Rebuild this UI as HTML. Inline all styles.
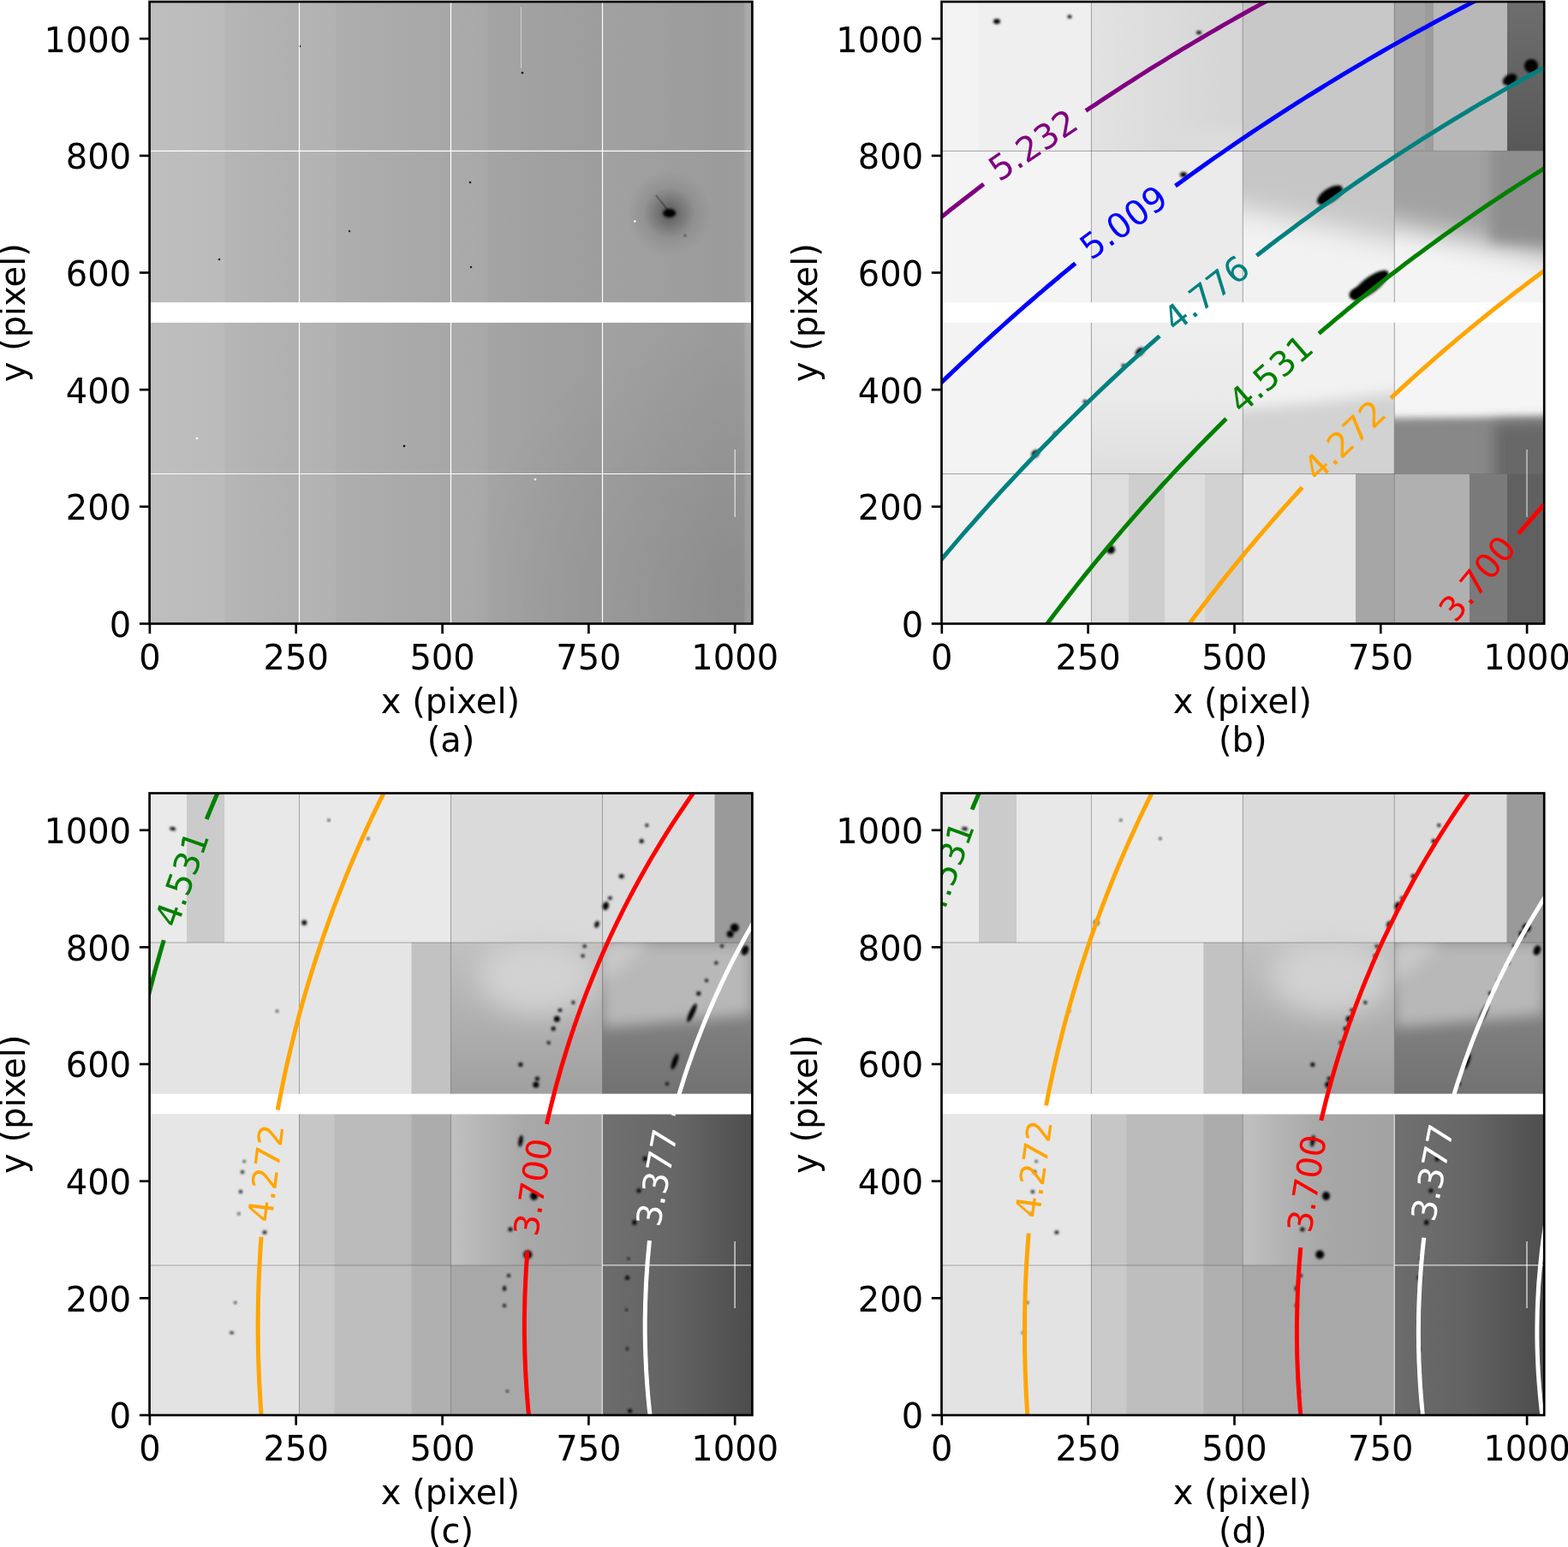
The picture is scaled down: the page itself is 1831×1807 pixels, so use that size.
<!DOCTYPE html>
<html><head><meta charset="utf-8"><title>Figure</title>
<style>html,body{margin:0;padding:0;background:#fff;}body{width:1831px;height:1807px;overflow:hidden;}svg{display:block;}</style>
</head><body>
<svg width="1831" height="1807" viewBox="0 0 1831 1807" font-family="DejaVu Sans, Liberation Sans, sans-serif">
<defs>
<clipPath id="clip0"><rect x="174.6" y="2" width="703.8" height="726.5"/></clipPath>
<clipPath id="clip1"><rect x="1099.5" y="2" width="703.7" height="726.5"/></clipPath>
<clipPath id="clip2"><rect x="174.6" y="926.5" width="703.8" height="726.5"/></clipPath>
<clipPath id="clip3"><rect x="1099.5" y="926.5" width="703.7" height="726.5"/></clipPath>
<clipPath id="cdseg4r2"><rect x="703.3" y="1101" width="175" height="176.5"/></clipPath>
<linearGradient id="ga" x1="0" y1="0" x2="1" y2="0"><stop offset="0" stop-color="#bebebe"/><stop offset="0.12" stop-color="#bbbbbb"/><stop offset="0.25" stop-color="#b4b4b4"/><stop offset="0.47" stop-color="#acacac"/><stop offset="0.69" stop-color="#a3a3a3"/><stop offset="0.8" stop-color="#a0a0a0"/><stop offset="0.95" stop-color="#9b9b9b"/><stop offset="0.985" stop-color="#9c9c9c"/><stop offset="0.99" stop-color="#aaaaaa"/><stop offset="1" stop-color="#aaaaaa"/></linearGradient>
<radialGradient id="alr" cx="0.5" cy="0.5" r="0.5"><stop offset="0" stop-color="#000" stop-opacity="0.10"/><stop offset="1" stop-color="#000" stop-opacity="0"/></radialGradient>
<radialGradient id="spot"><stop offset="0" stop-color="#000" stop-opacity="0.45"/><stop offset="0.3" stop-color="#000" stop-opacity="0.25"/><stop offset="0.6" stop-color="#000" stop-opacity="0.08"/><stop offset="1" stop-color="#000" stop-opacity="0"/></radialGradient>
<filter id="blur1" x="-50%" y="-50%" width="200%" height="200%"><feGaussianBlur stdDeviation="1.6"/></filter>
<filter id="soft8" x="-20%" y="-20%" width="140%" height="140%"><feGaussianBlur stdDeviation="8"/></filter>
<filter id="soft16" x="-30%" y="-30%" width="160%" height="160%"><feGaussianBlur stdDeviation="16"/></filter>
<filter id="soft4" x="-20%" y="-20%" width="140%" height="140%"><feGaussianBlur stdDeviation="4"/></filter>
<filter id="soft2" x="-50%" y="-50%" width="200%" height="200%"><feGaussianBlur stdDeviation="1.5"/></filter>
<clipPath id="bc00"><rect x="1099.5" y="2" width="174.9" height="174.4"/></clipPath>
<clipPath id="bc01"><rect x="1099.5" y="176.4" width="174.9" height="176.8"/></clipPath>
<clipPath id="bc02"><rect x="1099.5" y="376.9" width="174.9" height="176.6"/></clipPath>
<clipPath id="bc03"><rect x="1099.5" y="553.5" width="174.9" height="175"/></clipPath>
<clipPath id="bc10"><rect x="1274.4" y="2" width="176.9" height="174.4"/></clipPath>
<clipPath id="bc11"><rect x="1274.4" y="176.4" width="176.9" height="176.8"/></clipPath>
<clipPath id="bc12"><rect x="1274.4" y="376.9" width="176.9" height="176.6"/></clipPath>
<clipPath id="bc13"><rect x="1274.4" y="553.5" width="176.9" height="175"/></clipPath>
<clipPath id="bc20"><rect x="1451.3" y="2" width="177" height="174.4"/></clipPath>
<clipPath id="bc21"><rect x="1451.3" y="176.4" width="177" height="176.8"/></clipPath>
<clipPath id="bc22"><rect x="1451.3" y="376.9" width="177" height="176.6"/></clipPath>
<clipPath id="bc23"><rect x="1451.3" y="553.5" width="177" height="175"/></clipPath>
<clipPath id="bc30"><rect x="1628.3" y="2" width="175" height="174.4"/></clipPath>
<clipPath id="bc31"><rect x="1628.3" y="176.4" width="175" height="176.8"/></clipPath>
<clipPath id="bc32"><rect x="1628.3" y="376.9" width="175" height="176.6"/></clipPath>
<clipPath id="bc33"><rect x="1628.3" y="553.5" width="175" height="175"/></clipPath>
<linearGradient id="bgb1" x1="0" y1="0" x2="1" y2="0"><stop offset="0" stop-color="#e2e2e2"/><stop offset="1" stop-color="#d4d4d4"/></linearGradient>
<linearGradient id="bgb2" x1="0" y1="0" x2="0" y2="1"><stop offset="0" stop-color="#6e6e6e"/><stop offset="1" stop-color="#585858"/></linearGradient>
<linearGradient id="bgb3" x1="0" y1="0" x2="0" y2="1"><stop offset="0" stop-color="#eeeeee"/><stop offset="0.5" stop-color="#eaeaea"/><stop offset="1" stop-color="#dedede"/></linearGradient>
<linearGradient id="bg4" x1="0" y1="0" x2="0" y2="1"><stop offset="0.0" stop-color="#c0c0c0"/><stop offset="0.5" stop-color="#b0b0b0"/><stop offset="1.0" stop-color="#a0a0a0"/></linearGradient>
<linearGradient id="bg5" x1="0" y1="0" x2="0" y2="1"><stop offset="0.0" stop-color="#8a8a8a"/><stop offset="0.5" stop-color="#808080"/><stop offset="1.0" stop-color="#727272"/></linearGradient>
<linearGradient id="bg6" x1="0" y1="0" x2="1" y2="0"><stop offset="0.0" stop-color="#c0c0c0"/><stop offset="0.5" stop-color="#a8a8a8"/><stop offset="1.0" stop-color="#a2a2a2"/></linearGradient>
<linearGradient id="bg7" x1="0" y1="0" x2="1" y2="0"><stop offset="0.0" stop-color="#707070"/><stop offset="0.5" stop-color="#666666"/><stop offset="1.0" stop-color="#4e4e4e"/></linearGradient>
<linearGradient id="bg8" x1="0" y1="0" x2="1" y2="0"><stop offset="0.0" stop-color="#6c6c6c"/><stop offset="0.5" stop-color="#626262"/><stop offset="1.0" stop-color="#4c4c4c"/></linearGradient>
<linearGradient id="bg9" x1="0" y1="0" x2="0" y2="1"><stop offset="0.0" stop-color="#c0c0c0"/><stop offset="0.5" stop-color="#b0b0b0"/><stop offset="1.0" stop-color="#a0a0a0"/></linearGradient>
<linearGradient id="bg10" x1="0" y1="0" x2="0" y2="1"><stop offset="0.0" stop-color="#8a8a8a"/><stop offset="0.5" stop-color="#808080"/><stop offset="1.0" stop-color="#727272"/></linearGradient>
<linearGradient id="bg11" x1="0" y1="0" x2="1" y2="0"><stop offset="0.0" stop-color="#c0c0c0"/><stop offset="0.5" stop-color="#a8a8a8"/><stop offset="1.0" stop-color="#a2a2a2"/></linearGradient>
<linearGradient id="bg12" x1="0" y1="0" x2="1" y2="0"><stop offset="0.0" stop-color="#707070"/><stop offset="0.5" stop-color="#666666"/><stop offset="1.0" stop-color="#4e4e4e"/></linearGradient>
<linearGradient id="bg13" x1="0" y1="0" x2="1" y2="0"><stop offset="0.0" stop-color="#6c6c6c"/><stop offset="0.5" stop-color="#626262"/><stop offset="1.0" stop-color="#4c4c4c"/></linearGradient>
</defs>
<rect x="174.6" y="2" width="703.8" height="726.5" fill="url(#ga)"/>
<rect x="262.1" y="2" width="87.4" height="726.5" fill="#000" opacity="0.025"/>
<rect x="392.6" y="2" width="133.9" height="726.5" fill="#000" opacity="0.02"/>
<rect x="569.6" y="2" width="133.9" height="726.5" fill="#000" opacity="0.02"/>
<g clip-path="url(#clip0)"><ellipse cx="870" cy="700" rx="330" ry="330" fill="url(#alr)"/></g>
<circle cx="781.5" cy="249" r="50" fill="url(#spot)"/>
<path d="M766,228 L781,247" stroke="#000" stroke-opacity="0.25" stroke-width="2.5"/>
<ellipse cx="781.6" cy="249" rx="7.5" ry="5" fill="#000" filter="url(#blur1)"/>
<circle cx="800" cy="275.2" r="2" fill="#555" opacity="0.6"/>
<circle cx="741.3" cy="258.5" r="1.3" fill="#fff"/>
<circle cx="350" cy="54" r="1.3" fill="#000"/>
<circle cx="610" cy="85" r="1.3" fill="#000"/>
<circle cx="408" cy="270" r="1.3" fill="#333"/>
<circle cx="549" cy="213" r="1.3" fill="#222"/>
<circle cx="472" cy="521" r="1.3" fill="#000"/>
<circle cx="256" cy="303" r="1.3" fill="#222"/>
<circle cx="550" cy="312" r="1.3" fill="#222"/>
<circle cx="625" cy="560" r="1.3" fill="#fff"/>
<circle cx="230" cy="512" r="1.3" fill="#fff"/>
<line x1="858.2" y1="525" x2="858.2" y2="604" stroke="#fff" stroke-width="1" opacity="0.9"/>
<line x1="608.5" y1="8" x2="608.5" y2="80" stroke="#fff" stroke-width="1" opacity="0.5"/>
<line x1="349.5" y1="2" x2="349.5" y2="728.5" stroke="#fff" stroke-width="1.2" opacity="1.0"/>
<line x1="526.5" y1="2" x2="526.5" y2="728.5" stroke="#fff" stroke-width="1.2" opacity="1.0"/>
<line x1="703.5" y1="2" x2="703.5" y2="728.5" stroke="#fff" stroke-width="1.2" opacity="1.0"/>
<line x1="174.6" y1="176.4" x2="878.4" y2="176.4" stroke="#fff" stroke-width="1.2" opacity="1.0"/>
<line x1="174.6" y1="553.5" x2="878.4" y2="553.5" stroke="#fff" stroke-width="1.2" opacity="1.0"/>
<rect x="174.6" y="353.2" width="703.8" height="23.7" fill="#fff"/>
<rect x="1099.5" y="2" width="703.8" height="726.5" fill="#eeeeee"/>
<rect x="1099.5" y="2" width="43.5" height="174.4" fill="#f3f3f3"/>
<rect x="1143" y="2" width="131.4" height="174.4" fill="#efefef"/>
<rect x="1274.4" y="2" width="176.9" height="174.4" fill="url(#bgb1)"/>
<rect x="1451.3" y="2" width="177" height="174.4" fill="#c8c8c8"/>
<rect x="1628.3" y="2" width="131.7" height="174.4" fill="#b8b8b8"/>
<rect x="1628.3" y="2" width="35.7" height="174.4" fill="#a4a4a4"/>
<rect x="1664" y="2" width="10" height="174.4" fill="#9c9c9c"/>
<rect x="1760" y="2" width="43.3" height="174.4" fill="url(#bgb2)"/>
<rect x="1099.5" y="176.4" width="174.9" height="176.8" fill="#f4f4f4"/>
<rect x="1274.4" y="176.4" width="176.9" height="176.8" fill="#ebebeb"/>
<g clip-path="url(#bc10)"><path d="M1340,150 L1500,150 L1500,250 Z" fill="#dcdcdc" filter="url(#soft8)"/></g>
<rect x="1451.3" y="176.4" width="177" height="176.8" fill="#f2f2f2"/>
<g clip-path="url(#bc21)"><path d="M1400,100 L1700,100 L1700,297 L1400,232 Z" fill="#c6c6c6" filter="url(#soft16)"/></g>
<rect x="1628.3" y="176.4" width="175" height="176.8" fill="#f4f4f4"/>
<g clip-path="url(#bc31)"><path d="M1570,100 L1870,100 L1870,311 L1570,251 Z" fill="#a2a2a2" filter="url(#soft16)"/><path d="M1740,100 L1870,100 L1870,290 L1740,282 Z" fill="#8e8e8e" filter="url(#soft8)"/></g>
<rect x="1099.5" y="376.9" width="174.9" height="176.6" fill="#f3f3f3"/>
<rect x="1274.4" y="376.9" width="176.9" height="176.6" fill="url(#bgb3)"/>
<rect x="1451.3" y="376.9" width="177" height="176.6" fill="#f2f2f2"/>
<g clip-path="url(#bc22)"><path d="M1400,600 L1400,482 L1540,470 L1680,452 L1680,600 Z" fill="#d2d2d2" filter="url(#soft8)"/></g>
<rect x="1628.3" y="376.9" width="175" height="176.6" fill="#f5f5f5"/>
<g clip-path="url(#bc32)"><path d="M1580,489 L1860,486 L1860,600 L1580,600 Z" fill="#888888" filter="url(#soft4)"/><path d="M1745,494 L1860,492 L1860,600 L1745,600 Z" fill="#686868" filter="url(#soft8)"/></g>
<rect x="1099.5" y="553.5" width="174.9" height="175" fill="#f2f2f2"/>
<rect x="1274.4" y="553.5" width="176.9" height="175" fill="#dedede"/>
<rect x="1318" y="553.5" width="42" height="175" fill="#cecece"/>
<rect x="1407" y="553.5" width="44.3" height="175" fill="#d2d2d2"/>
<rect x="1451.3" y="553.5" width="131.7" height="175" fill="#e6e6e6"/>
<rect x="1583" y="553.5" width="45.3" height="175" fill="#a6a6a6"/>
<rect x="1628.3" y="553.5" width="87.7" height="175" fill="#b0b0b0"/>
<rect x="1716" y="553.5" width="44" height="175" fill="#7a7a7a"/>
<rect x="1760" y="553.5" width="43.3" height="175" fill="#606060"/>
<g clip-path="url(#clip1)" fill="#000">
<ellipse cx="1553" cy="228" rx="17" ry="8" transform="rotate(-33 1553 228)" filter="url(#soft2)"/>
<ellipse cx="1600" cy="333" rx="26" ry="9" transform="rotate(-37 1600 333)" filter="url(#soft2)"/>
<ellipse cx="1583" cy="343" rx="8" ry="6" transform="rotate(-30 1583 343)" filter="url(#soft2)"/>
<ellipse cx="1763" cy="93" rx="9" ry="6" transform="rotate(-30 1763 93)" filter="url(#soft2)"/>
<ellipse cx="1788" cy="77" rx="8" ry="8" transform="rotate(0 1788 77)" filter="url(#soft2)"/>
<ellipse cx="1297" cy="642" rx="5" ry="5" transform="rotate(0 1297 642)" filter="url(#soft2)"/>
<ellipse cx="1209" cy="530" rx="5" ry="4" transform="rotate(-45 1209 530)" filter="url(#soft2)"/>
<ellipse cx="1164" cy="25" rx="4" ry="3" transform="rotate(0 1164 25)" filter="url(#soft2)"/>
<ellipse cx="1382" cy="204" rx="4" ry="3" transform="rotate(0 1382 204)" filter="url(#soft2)"/>
<ellipse cx="1331" cy="411" rx="6" ry="4" transform="rotate(-45 1331 411)" filter="url(#soft2)"/>
<ellipse cx="1312" cy="427" rx="2.5" ry="2" transform="rotate(0 1312 427)" filter="url(#soft2)"/>
<ellipse cx="1267" cy="469" rx="2.5" ry="2" transform="rotate(0 1267 469)" filter="url(#soft2)"/>
<ellipse cx="1232" cy="506" rx="2" ry="2" transform="rotate(0 1232 506)" filter="url(#soft2)"/>
<ellipse cx="1400" cy="38" rx="3" ry="2" transform="rotate(0 1400 38)" filter="url(#soft2)"/>
<ellipse cx="1249" cy="19.5" rx="2.5" ry="2" transform="rotate(0 1249 19.5)" filter="url(#soft2)"/>
</g>
<line x1="1274.4" y1="2" x2="1274.4" y2="728.5" stroke="#555" stroke-width="1.0" opacity="0.5"/>
<line x1="1451.3" y1="2" x2="1451.3" y2="728.5" stroke="#555" stroke-width="1.0" opacity="0.5"/>
<line x1="1628.3" y1="2" x2="1628.3" y2="728.5" stroke="#555" stroke-width="1.0" opacity="0.5"/>
<line x1="1099.5" y1="176.4" x2="1803.2" y2="176.4" stroke="#555" stroke-width="1.0" opacity="0.5"/>
<line x1="1099.5" y1="553.5" x2="1803.2" y2="553.5" stroke="#555" stroke-width="1.0" opacity="0.5"/>
<line x1="1783" y1="525" x2="1783" y2="604" stroke="#fff" stroke-width="1" opacity="0.9"/>
<rect x="1099.5" y="353.2" width="703.7" height="23.7" fill="#fff"/>
<g clip-path="url(#clip2)"><g transform="translate(0 0)">
<rect x="174.6" y="926.5" width="703.8" height="726.5" fill="#d0d0d0"/>
<rect x="174.6" y="926.5" width="43.5" height="174.4" fill="#eaeaea"/>
<rect x="218.1" y="926.5" width="44" height="174.4" fill="#cbcbcb"/>
<rect x="262.1" y="926.5" width="87.4" height="174.4" fill="#e8e8e8"/>
<rect x="349.5" y="926.5" width="177" height="174.4" fill="#e9e9e9"/>
<rect x="526.5" y="926.5" width="177" height="174.4" fill="#dadada"/>
<rect x="703.5" y="926.5" width="131.1" height="174.4" fill="#dcdcdc"/>
<rect x="834.6" y="926.5" width="43.8" height="174.4" fill="#9a9a9a"/>
<rect x="174.6" y="1101" width="174.9" height="176.8" fill="#e4e4e4"/>
<rect x="349.5" y="1101" width="131.1" height="176.8" fill="#e5e5e5"/>
<rect x="480.6" y="1101" width="45.9" height="176.8" fill="#c2c2c2"/>
<rect x="526.5" y="1101" width="177" height="176.8" fill="url(#bg4)"/>
<rect x="703.5" y="1101" width="174.9" height="176.8" fill="url(#bg5)"/>
<rect x="174.6" y="1301.4" width="174.9" height="176.6" fill="#e6e6e6"/>
<rect x="349.5" y="1301.4" width="177" height="176.6" fill="#bababa"/>
<rect x="349.5" y="1301.4" width="41.1" height="176.6" fill="#c6c6c6"/>
<rect x="480.6" y="1301.4" width="45.9" height="176.6" fill="#acacac"/>
<rect x="526.5" y="1301.4" width="177" height="176.6" fill="url(#bg6)"/>
<rect x="703.5" y="1301.4" width="174.9" height="176.6" fill="url(#bg7)"/>
<rect x="174.6" y="1478" width="174.9" height="175" fill="#e3e3e3"/>
<rect x="349.5" y="1478" width="177" height="175" fill="#bebebe"/>
<rect x="349.5" y="1478" width="41.1" height="175" fill="#cacaca"/>
<rect x="480.6" y="1478" width="45.9" height="175" fill="#b0b0b0"/>
<rect x="526.5" y="1478" width="177" height="175" fill="#a8a8a8"/>
<rect x="703.5" y="1478" width="174.9" height="175" fill="url(#bg8)"/>
<ellipse cx="628" cy="1140" rx="70" ry="45" fill="#d2d2d2" filter="url(#soft16)"/>
<path d="M703.2,1101 L878.4,1101 L878.4,1185 L703.2,1200 Z" fill="#b8b8b8" filter="url(#soft8)" clip-path="url(#cdseg4r2)"/>
<path d="M703.2,1101 L760,1101 L703.2,1150 Z" fill="#c8c8c8" filter="url(#soft8)" clip-path="url(#cdseg4r2)"/>
<g fill="#000">
<ellipse cx="749.2" cy="982.5" rx="2.5" ry="2.5" transform="rotate(0 749.2 982.5)" filter="url(#soft2)"/>
<ellipse cx="725.7" cy="1023.4" rx="3" ry="2.5" transform="rotate(0 725.7 1023.4)" filter="url(#soft2)"/>
<ellipse cx="712.4" cy="1049" rx="2.5" ry="2" transform="rotate(0 712.4 1049)" filter="url(#soft2)"/>
<ellipse cx="707.3" cy="1058.2" rx="3.5" ry="5" transform="rotate(15 707.3 1058.2)" filter="url(#soft2)"/>
<ellipse cx="697" cy="1079.7" rx="2.5" ry="4" transform="rotate(20 697 1079.7)" filter="url(#soft2)"/>
<ellipse cx="682.7" cy="1105.3" rx="2" ry="2" transform="rotate(0 682.7 1105.3)" filter="url(#soft2)"/>
<ellipse cx="680.6" cy="1116.6" rx="2" ry="2" transform="rotate(0 680.6 1116.6)" filter="url(#soft2)"/>
<ellipse cx="669.4" cy="1170.9" rx="2" ry="2" transform="rotate(0 669.4 1170.9)" filter="url(#soft2)"/>
<ellipse cx="654" cy="1180" rx="2.5" ry="2" transform="rotate(0 654 1180)" filter="url(#soft2)"/>
<ellipse cx="650.3" cy="1190.3" rx="3.5" ry="3.5" transform="rotate(0 650.3 1190.3)" filter="url(#soft2)"/>
<ellipse cx="646.2" cy="1201.6" rx="2.5" ry="2.5" transform="rotate(0 646.2 1201.6)" filter="url(#soft2)"/>
<ellipse cx="640.7" cy="1218" rx="2" ry="2" transform="rotate(0 640.7 1218)" filter="url(#soft2)"/>
<ellipse cx="607.9" cy="1243.6" rx="2.5" ry="2.5" transform="rotate(0 607.9 1243.6)" filter="url(#soft2)"/>
<ellipse cx="627.4" cy="1260" rx="2.5" ry="2.5" transform="rotate(0 627.4 1260)" filter="url(#soft2)"/>
<ellipse cx="625.8" cy="1267" rx="3.5" ry="3.5" transform="rotate(0 625.8 1267)" filter="url(#soft2)"/>
<ellipse cx="755.4" cy="964" rx="2" ry="2" transform="rotate(0 755.4 964)" filter="url(#soft2)"/>
<ellipse cx="857.8" cy="1083.8" rx="5" ry="5" transform="rotate(0 857.8 1083.8)" filter="url(#soft2)"/>
<ellipse cx="852.7" cy="1091" rx="4" ry="4" transform="rotate(0 852.7 1091)" filter="url(#soft2)"/>
<ellipse cx="843" cy="1105" rx="2" ry="2" transform="rotate(0 843 1105)" filter="url(#soft2)"/>
<ellipse cx="836.3" cy="1124.8" rx="2" ry="2" transform="rotate(0 836.3 1124.8)" filter="url(#soft2)"/>
<ellipse cx="825" cy="1145.3" rx="2" ry="2" transform="rotate(0 825 1145.3)" filter="url(#soft2)"/>
<ellipse cx="815.8" cy="1160.6" rx="2.5" ry="2.5" transform="rotate(0 815.8 1160.6)" filter="url(#soft2)"/>
<ellipse cx="808" cy="1183" rx="3" ry="12" transform="rotate(25 808 1183)" filter="url(#soft2)"/>
<ellipse cx="788" cy="1240" rx="3" ry="10" transform="rotate(20 788 1240)" filter="url(#soft2)"/>
<ellipse cx="779" cy="1266" rx="2" ry="2" transform="rotate(0 779 1266)" filter="url(#soft2)"/>
<ellipse cx="870" cy="1110" rx="4" ry="6" transform="rotate(20 870 1110)" filter="url(#soft2)"/>
<ellipse cx="608" cy="1332.7" rx="2.5" ry="7" transform="rotate(10 608 1332.7)" filter="url(#soft2)"/>
<ellipse cx="623.6" cy="1397" rx="4.5" ry="5" transform="rotate(0 623.6 1397)" filter="url(#soft2)"/>
<ellipse cx="616.3" cy="1465.5" rx="5" ry="5" transform="rotate(0 616.3 1465.5)" filter="url(#soft2)"/>
<ellipse cx="594" cy="1490" rx="2" ry="2" transform="rotate(0 594 1490)" filter="url(#soft2)"/>
<ellipse cx="589" cy="1505" rx="2" ry="3" transform="rotate(0 589 1505)" filter="url(#soft2)"/>
<ellipse cx="589" cy="1525" rx="2" ry="2" transform="rotate(0 589 1525)" filter="url(#soft2)"/>
<ellipse cx="592.4" cy="1625" rx="1.5" ry="1.5" transform="rotate(0 592.4 1625)" filter="url(#soft2)"/>
<ellipse cx="596" cy="1436" rx="2.5" ry="2.5" transform="rotate(0 596 1436)" filter="url(#soft2)"/>
<ellipse cx="753.3" cy="1353.5" rx="2.5" ry="3" transform="rotate(0 753.3 1353.5)" filter="url(#soft2)"/>
<ellipse cx="746" cy="1390.8" rx="2.5" ry="2.5" transform="rotate(0 746 1390.8)" filter="url(#soft2)"/>
<ellipse cx="740.8" cy="1428" rx="2.5" ry="3" transform="rotate(0 740.8 1428)" filter="url(#soft2)"/>
<ellipse cx="734" cy="1470" rx="1.5" ry="1.5" transform="rotate(0 734 1470)" filter="url(#soft2)"/>
<ellipse cx="732.5" cy="1492.5" rx="2.5" ry="2.5" transform="rotate(0 732.5 1492.5)" filter="url(#soft2)"/>
<ellipse cx="731.5" cy="1529.9" rx="1.5" ry="1.5" transform="rotate(0 731.5 1529.9)" filter="url(#soft2)"/>
<ellipse cx="732.5" cy="1575.5" rx="1.5" ry="2" transform="rotate(0 732.5 1575.5)" filter="url(#soft2)"/>
<ellipse cx="735.6" cy="1648" rx="2.5" ry="2.5" transform="rotate(0 735.6 1648)" filter="url(#soft2)"/>
<ellipse cx="201.7" cy="968.1" rx="3.5" ry="2" transform="rotate(10 201.7 968.1)" filter="url(#soft2)"/>
<ellipse cx="355.3" cy="1077.7" rx="3" ry="3" transform="rotate(0 355.3 1077.7)" filter="url(#soft2)"/>
<ellipse cx="323.6" cy="1181.1" rx="1.5" ry="1.5" transform="rotate(0 323.6 1181.1)" filter="url(#soft2)"/>
<ellipse cx="384" cy="957.9" rx="1.5" ry="1.5" transform="rotate(0 384 957.9)" filter="url(#soft2)"/>
<ellipse cx="430" cy="979.4" rx="1.5" ry="1.5" transform="rotate(0 430 979.4)" filter="url(#soft2)"/>
<ellipse cx="285.2" cy="1356.6" rx="1.5" ry="1.5" transform="rotate(0 285.2 1356.6)" filter="url(#soft2)"/>
<ellipse cx="283.1" cy="1369" rx="2" ry="2" transform="rotate(0 283.1 1369)" filter="url(#soft2)"/>
<ellipse cx="281" cy="1391.9" rx="2" ry="2" transform="rotate(0 281 1391.9)" filter="url(#soft2)"/>
<ellipse cx="278.9" cy="1417.8" rx="1.5" ry="1.5" transform="rotate(0 278.9 1417.8)" filter="url(#soft2)"/>
<ellipse cx="309" cy="1439.6" rx="2.5" ry="2" transform="rotate(0 309 1439.6)" filter="url(#soft2)"/>
<ellipse cx="270.6" cy="1556.8" rx="2.5" ry="1.5" transform="rotate(0 270.6 1556.8)" filter="url(#soft2)"/>
<ellipse cx="274.8" cy="1521.6" rx="1.5" ry="1.5" transform="rotate(0 274.8 1521.6)" filter="url(#soft2)"/>
</g>
</g></g>
<line x1="349.5" y1="926.5" x2="349.5" y2="1653" stroke="#555" stroke-width="1.0" opacity="0.45"/>
<line x1="526.5" y1="926.5" x2="526.5" y2="1653" stroke="#555" stroke-width="1.0" opacity="0.45"/>
<line x1="703.5" y1="926.5" x2="703.5" y2="1653" stroke="#555" stroke-width="1.0" opacity="0.45"/>
<line x1="174.6" y1="1101" x2="878.4" y2="1101" stroke="#555" stroke-width="1.0" opacity="0.45"/>
<line x1="174.6" y1="1478" x2="878.4" y2="1478" stroke="#555" stroke-width="1.0" opacity="0.45"/>
<line x1="703.3" y1="1301.4" x2="703.3" y2="1653" stroke="#fff" stroke-width="1.2" opacity="0.8"/>
<line x1="703.3" y1="1477.95" x2="878.4" y2="1477.95" stroke="#fff" stroke-width="1.2" opacity="0.8"/>
<line x1="858.1" y1="1450" x2="858.1" y2="1528" stroke="#fff" stroke-width="1.2" opacity="0.9"/>
<rect x="174.6" y="1277.7" width="703.8" height="23.7" fill="#fff"/>
<g clip-path="url(#clip3)"><g transform="translate(924.9 0)">
<rect x="174.6" y="926.5" width="703.8" height="726.5" fill="#d0d0d0"/>
<rect x="174.6" y="926.5" width="43.5" height="174.4" fill="#eaeaea"/>
<rect x="218.1" y="926.5" width="44" height="174.4" fill="#cbcbcb"/>
<rect x="262.1" y="926.5" width="87.4" height="174.4" fill="#e8e8e8"/>
<rect x="349.5" y="926.5" width="177" height="174.4" fill="#e9e9e9"/>
<rect x="526.5" y="926.5" width="177" height="174.4" fill="#dadada"/>
<rect x="703.5" y="926.5" width="131.1" height="174.4" fill="#dcdcdc"/>
<rect x="834.6" y="926.5" width="43.8" height="174.4" fill="#9a9a9a"/>
<rect x="174.6" y="1101" width="174.9" height="176.8" fill="#e4e4e4"/>
<rect x="349.5" y="1101" width="131.1" height="176.8" fill="#e5e5e5"/>
<rect x="480.6" y="1101" width="45.9" height="176.8" fill="#c2c2c2"/>
<rect x="526.5" y="1101" width="177" height="176.8" fill="url(#bg9)"/>
<rect x="703.5" y="1101" width="174.9" height="176.8" fill="url(#bg10)"/>
<rect x="174.6" y="1301.4" width="174.9" height="176.6" fill="#e6e6e6"/>
<rect x="349.5" y="1301.4" width="177" height="176.6" fill="#bababa"/>
<rect x="349.5" y="1301.4" width="41.1" height="176.6" fill="#c6c6c6"/>
<rect x="480.6" y="1301.4" width="45.9" height="176.6" fill="#acacac"/>
<rect x="526.5" y="1301.4" width="177" height="176.6" fill="url(#bg11)"/>
<rect x="703.5" y="1301.4" width="174.9" height="176.6" fill="url(#bg12)"/>
<rect x="174.6" y="1478" width="174.9" height="175" fill="#e3e3e3"/>
<rect x="349.5" y="1478" width="177" height="175" fill="#bebebe"/>
<rect x="349.5" y="1478" width="41.1" height="175" fill="#cacaca"/>
<rect x="480.6" y="1478" width="45.9" height="175" fill="#b0b0b0"/>
<rect x="526.5" y="1478" width="177" height="175" fill="#a8a8a8"/>
<rect x="703.5" y="1478" width="174.9" height="175" fill="url(#bg13)"/>
<ellipse cx="628" cy="1140" rx="70" ry="45" fill="#d2d2d2" filter="url(#soft16)"/>
<path d="M703.2,1101 L878.4,1101 L878.4,1185 L703.2,1200 Z" fill="#b8b8b8" filter="url(#soft8)" clip-path="url(#cdseg4r2)"/>
<path d="M703.2,1101 L760,1101 L703.2,1150 Z" fill="#c8c8c8" filter="url(#soft8)" clip-path="url(#cdseg4r2)"/>
<g fill="#000">
<ellipse cx="749.2" cy="982.5" rx="2.5" ry="2.5" transform="rotate(0 749.2 982.5)" filter="url(#soft2)"/>
<ellipse cx="725.7" cy="1023.4" rx="3" ry="2.5" transform="rotate(0 725.7 1023.4)" filter="url(#soft2)"/>
<ellipse cx="712.4" cy="1049" rx="2.5" ry="2" transform="rotate(0 712.4 1049)" filter="url(#soft2)"/>
<ellipse cx="707.3" cy="1058.2" rx="3.5" ry="5" transform="rotate(15 707.3 1058.2)" filter="url(#soft2)"/>
<ellipse cx="697" cy="1079.7" rx="2.5" ry="4" transform="rotate(20 697 1079.7)" filter="url(#soft2)"/>
<ellipse cx="682.7" cy="1105.3" rx="2" ry="2" transform="rotate(0 682.7 1105.3)" filter="url(#soft2)"/>
<ellipse cx="680.6" cy="1116.6" rx="2" ry="2" transform="rotate(0 680.6 1116.6)" filter="url(#soft2)"/>
<ellipse cx="669.4" cy="1170.9" rx="2" ry="2" transform="rotate(0 669.4 1170.9)" filter="url(#soft2)"/>
<ellipse cx="654" cy="1180" rx="2.5" ry="2" transform="rotate(0 654 1180)" filter="url(#soft2)"/>
<ellipse cx="650.3" cy="1190.3" rx="3.5" ry="3.5" transform="rotate(0 650.3 1190.3)" filter="url(#soft2)"/>
<ellipse cx="646.2" cy="1201.6" rx="2.5" ry="2.5" transform="rotate(0 646.2 1201.6)" filter="url(#soft2)"/>
<ellipse cx="640.7" cy="1218" rx="2" ry="2" transform="rotate(0 640.7 1218)" filter="url(#soft2)"/>
<ellipse cx="607.9" cy="1243.6" rx="2.5" ry="2.5" transform="rotate(0 607.9 1243.6)" filter="url(#soft2)"/>
<ellipse cx="627.4" cy="1260" rx="2.5" ry="2.5" transform="rotate(0 627.4 1260)" filter="url(#soft2)"/>
<ellipse cx="625.8" cy="1267" rx="3.5" ry="3.5" transform="rotate(0 625.8 1267)" filter="url(#soft2)"/>
<ellipse cx="755.4" cy="964" rx="2" ry="2" transform="rotate(0 755.4 964)" filter="url(#soft2)"/>
<ellipse cx="857.8" cy="1083.8" rx="5" ry="5" transform="rotate(0 857.8 1083.8)" filter="url(#soft2)"/>
<ellipse cx="852.7" cy="1091" rx="4" ry="4" transform="rotate(0 852.7 1091)" filter="url(#soft2)"/>
<ellipse cx="843" cy="1105" rx="2" ry="2" transform="rotate(0 843 1105)" filter="url(#soft2)"/>
<ellipse cx="836.3" cy="1124.8" rx="2" ry="2" transform="rotate(0 836.3 1124.8)" filter="url(#soft2)"/>
<ellipse cx="825" cy="1145.3" rx="2" ry="2" transform="rotate(0 825 1145.3)" filter="url(#soft2)"/>
<ellipse cx="815.8" cy="1160.6" rx="2.5" ry="2.5" transform="rotate(0 815.8 1160.6)" filter="url(#soft2)"/>
<ellipse cx="808" cy="1183" rx="3" ry="12" transform="rotate(25 808 1183)" filter="url(#soft2)"/>
<ellipse cx="788" cy="1240" rx="3" ry="10" transform="rotate(20 788 1240)" filter="url(#soft2)"/>
<ellipse cx="779" cy="1266" rx="2" ry="2" transform="rotate(0 779 1266)" filter="url(#soft2)"/>
<ellipse cx="870" cy="1110" rx="4" ry="6" transform="rotate(20 870 1110)" filter="url(#soft2)"/>
<ellipse cx="608" cy="1332.7" rx="2.5" ry="7" transform="rotate(10 608 1332.7)" filter="url(#soft2)"/>
<ellipse cx="623.6" cy="1397" rx="4.5" ry="5" transform="rotate(0 623.6 1397)" filter="url(#soft2)"/>
<ellipse cx="616.3" cy="1465.5" rx="5" ry="5" transform="rotate(0 616.3 1465.5)" filter="url(#soft2)"/>
<ellipse cx="594" cy="1490" rx="2" ry="2" transform="rotate(0 594 1490)" filter="url(#soft2)"/>
<ellipse cx="589" cy="1505" rx="2" ry="3" transform="rotate(0 589 1505)" filter="url(#soft2)"/>
<ellipse cx="589" cy="1525" rx="2" ry="2" transform="rotate(0 589 1525)" filter="url(#soft2)"/>
<ellipse cx="592.4" cy="1625" rx="1.5" ry="1.5" transform="rotate(0 592.4 1625)" filter="url(#soft2)"/>
<ellipse cx="596" cy="1436" rx="2.5" ry="2.5" transform="rotate(0 596 1436)" filter="url(#soft2)"/>
<ellipse cx="753.3" cy="1353.5" rx="2.5" ry="3" transform="rotate(0 753.3 1353.5)" filter="url(#soft2)"/>
<ellipse cx="746" cy="1390.8" rx="2.5" ry="2.5" transform="rotate(0 746 1390.8)" filter="url(#soft2)"/>
<ellipse cx="740.8" cy="1428" rx="2.5" ry="3" transform="rotate(0 740.8 1428)" filter="url(#soft2)"/>
<ellipse cx="734" cy="1470" rx="1.5" ry="1.5" transform="rotate(0 734 1470)" filter="url(#soft2)"/>
<ellipse cx="732.5" cy="1492.5" rx="2.5" ry="2.5" transform="rotate(0 732.5 1492.5)" filter="url(#soft2)"/>
<ellipse cx="731.5" cy="1529.9" rx="1.5" ry="1.5" transform="rotate(0 731.5 1529.9)" filter="url(#soft2)"/>
<ellipse cx="732.5" cy="1575.5" rx="1.5" ry="2" transform="rotate(0 732.5 1575.5)" filter="url(#soft2)"/>
<ellipse cx="735.6" cy="1648" rx="2.5" ry="2.5" transform="rotate(0 735.6 1648)" filter="url(#soft2)"/>
<ellipse cx="201.7" cy="968.1" rx="3.5" ry="2" transform="rotate(10 201.7 968.1)" filter="url(#soft2)"/>
<ellipse cx="355.3" cy="1077.7" rx="3" ry="3" transform="rotate(0 355.3 1077.7)" filter="url(#soft2)"/>
<ellipse cx="323.6" cy="1181.1" rx="1.5" ry="1.5" transform="rotate(0 323.6 1181.1)" filter="url(#soft2)"/>
<ellipse cx="384" cy="957.9" rx="1.5" ry="1.5" transform="rotate(0 384 957.9)" filter="url(#soft2)"/>
<ellipse cx="430" cy="979.4" rx="1.5" ry="1.5" transform="rotate(0 430 979.4)" filter="url(#soft2)"/>
<ellipse cx="285.2" cy="1356.6" rx="1.5" ry="1.5" transform="rotate(0 285.2 1356.6)" filter="url(#soft2)"/>
<ellipse cx="283.1" cy="1369" rx="2" ry="2" transform="rotate(0 283.1 1369)" filter="url(#soft2)"/>
<ellipse cx="281" cy="1391.9" rx="2" ry="2" transform="rotate(0 281 1391.9)" filter="url(#soft2)"/>
<ellipse cx="278.9" cy="1417.8" rx="1.5" ry="1.5" transform="rotate(0 278.9 1417.8)" filter="url(#soft2)"/>
<ellipse cx="309" cy="1439.6" rx="2.5" ry="2" transform="rotate(0 309 1439.6)" filter="url(#soft2)"/>
<ellipse cx="270.6" cy="1556.8" rx="2.5" ry="1.5" transform="rotate(0 270.6 1556.8)" filter="url(#soft2)"/>
<ellipse cx="274.8" cy="1521.6" rx="1.5" ry="1.5" transform="rotate(0 274.8 1521.6)" filter="url(#soft2)"/>
</g>
</g></g>
<line x1="1274.4" y1="926.5" x2="1274.4" y2="1653" stroke="#555" stroke-width="1.0" opacity="0.45"/>
<line x1="1451.3" y1="926.5" x2="1451.3" y2="1653" stroke="#555" stroke-width="1.0" opacity="0.45"/>
<line x1="1628.3" y1="926.5" x2="1628.3" y2="1653" stroke="#555" stroke-width="1.0" opacity="0.45"/>
<line x1="1099.5" y1="1101" x2="1803.2" y2="1101" stroke="#555" stroke-width="1.0" opacity="0.45"/>
<line x1="1099.5" y1="1478" x2="1803.2" y2="1478" stroke="#555" stroke-width="1.0" opacity="0.45"/>
<line x1="1628.2" y1="1301.4" x2="1628.2" y2="1653" stroke="#fff" stroke-width="1.2" opacity="0.8"/>
<line x1="1628.2" y1="1477.95" x2="1803.3" y2="1477.95" stroke="#fff" stroke-width="1.2" opacity="0.8"/>
<line x1="1783" y1="1450" x2="1783" y2="1528" stroke="#fff" stroke-width="1.2" opacity="0.9"/>
<rect x="1099.5" y="1277.7" width="703.7" height="23.7" fill="#fff"/>
<g clip-path="url(#clip1)" fill="none" stroke-width="5" stroke-linecap="butt" stroke-linejoin="round">
<path d="M1097,255.4 L1098.3,254.4 L1099.6,253.3 L1100.9,252.3 L1102.2,251.3 L1103.5,250.2 L1104.8,249.2 L1106,248.2 L1107.3,247.2 L1108.6,246.1 L1109.9,245.1 L1111.2,244.1 L1112.5,243.1 L1113.8,242 L1115.1,241 L1116.4,240 L1117.7,239 L1119,238 L1120.3,237 L1121.6,236 L1122.8,234.9 L1124.1,233.9 L1125.4,232.9 L1126.7,231.9 L1128,230.9 L1129.3,229.9 L1130.6,228.9 L1131.9,227.9 L1133.2,226.9 L1134.5,225.9 L1135.8,224.9 L1137.1,223.9 L1138.4,222.9 L1139.7,221.9 L1140.9,220.9 L1142.2,219.9 L1143.5,219 L1144.8,218 L1146.1,217 L1147.4,216 L1148.7,215" stroke="#800080"/>
<path d="M1268,129.4 L1273.3,125.8 L1278.7,122.3 L1284,118.7 L1289.4,115.1 L1294.8,111.6 L1300.1,108.1 L1305.5,104.6 L1310.8,101.2 L1316.2,97.7 L1321.5,94.3 L1326.8,90.9 L1332.2,87.5 L1337.5,84.1 L1342.9,80.7 L1348.2,77.4 L1353.6,74.1 L1359,70.8 L1364.3,67.5 L1369.7,64.2 L1375,61 L1380.3,57.7 L1385.7,54.5 L1391,51.3 L1396.4,48.2 L1401.8,45 L1407.1,41.9 L1412.5,38.7 L1417.8,35.6 L1423.2,32.5 L1428.5,29.4 L1433.8,26.4 L1439.2,23.3 L1444.5,20.3 L1449.9,17.3 L1455.2,14.3 L1460.6,11.3 L1466,8.4 L1471.3,5.4 L1476.7,2.5 L1482,-0.4" stroke="#800080"/>
<path d="M1097,449 L1101,445.2 L1104.9,441.4 L1108.9,437.6 L1112.9,433.8 L1116.8,430.1 L1120.8,426.3 L1124.8,422.6 L1128.8,418.9 L1132.7,415.2 L1136.7,411.5 L1140.7,407.8 L1144.6,404.1 L1148.6,400.5 L1152.6,396.9 L1156.5,393.3 L1160.5,389.7 L1164.5,386.1 L1168.5,382.5 L1172.4,379 L1176.4,375.4 L1180.4,371.9 L1184.3,368.4 L1188.3,364.9 L1192.3,361.4 L1196.2,357.9 L1200.2,354.5 L1204.2,351 L1208.2,347.6 L1212.1,344.2 L1216.1,340.8 L1220.1,337.4 L1224,334 L1228,330.7 L1232,327.3 L1236,324 L1239.9,320.7 L1243.9,317.4 L1247.9,314.1 L1251.8,310.8 L1255.8,307.6" stroke="#0000ff"/>
<path d="M1372.5,217.1 L1381.4,210.7 L1390.3,204.2 L1399.2,197.9 L1408,191.6 L1416.9,185.3 L1425.8,179.2 L1434.7,173 L1443.6,166.9 L1452.5,160.9 L1461.4,154.9 L1470.3,149 L1479.2,143.1 L1488,137.3 L1496.9,131.6 L1505.8,125.8 L1514.7,120.2 L1523.6,114.5 L1532.5,109 L1541.4,103.5 L1550.2,98 L1559.1,92.6 L1568,87.2 L1576.9,81.9 L1585.8,76.6 L1594.7,71.4 L1603.6,66.2 L1612.5,61 L1621.3,55.9 L1630.2,50.9 L1639.1,45.9 L1648,40.9 L1656.9,36 L1665.8,31.2 L1674.7,26.3 L1683.6,21.6 L1692.5,16.8 L1701.3,12.1 L1710.2,7.5 L1719.1,2.9 L1728,-1.7" stroke="#0000ff"/>
<path d="M1097,656.3 L1103.4,648.6 L1109.9,641 L1116.3,633.5 L1122.7,626 L1129.1,618.6 L1135.6,611.3 L1142,604 L1148.4,596.8 L1154.8,589.6 L1161.3,582.5 L1167.7,575.4 L1174.1,568.4 L1180.6,561.5 L1187,554.6 L1193.4,547.8 L1199.8,541 L1206.3,534.3 L1212.7,527.6 L1219.1,520.9 L1225.5,514.4 L1232,507.8 L1238.4,501.3 L1244.8,494.9 L1251.3,488.5 L1257.7,482.2 L1264.1,475.9 L1270.5,469.7 L1277,463.5 L1283.4,457.3 L1289.8,451.2 L1296.3,445.1 L1302.7,439.1 L1309.1,433.1 L1315.5,427.2 L1322,421.3 L1328.4,415.5 L1334.8,409.6 L1341.2,403.9 L1347.7,398.2 L1354.1,392.5" stroke="#008080"/>
<path d="M1467.4,298.6 L1475.9,292 L1484.3,285.5 L1492.8,279.1 L1501.3,272.7 L1509.7,266.4 L1518.2,260.1 L1526.7,253.9 L1535.1,247.7 L1543.6,241.6 L1552.1,235.6 L1560.5,229.6 L1569,223.6 L1577.4,217.7 L1585.9,211.9 L1594.4,206.1 L1602.8,200.4 L1611.3,194.7 L1619.8,189.1 L1628.2,183.5 L1636.7,178 L1645.2,172.5 L1653.6,167.1 L1662.1,161.7 L1670.6,156.4 L1679,151.1 L1687.5,145.9 L1696,140.7 L1704.4,135.6 L1712.9,130.5 L1721.3,125.4 L1729.8,120.4 L1738.3,115.5 L1746.7,110.6 L1755.2,105.7 L1763.7,100.9 L1772.1,96.2 L1780.6,91.4 L1789.1,86.8 L1797.5,82.1 L1806,77.5" stroke="#008080"/>
<path d="M1222,729.7 L1227.2,722.7 L1232.5,715.8 L1237.7,708.9 L1243,702.1 L1248.2,695.4 L1253.5,688.7 L1258.7,682 L1264,675.4 L1269.2,668.9 L1274.5,662.4 L1279.7,656 L1285,649.6 L1290.2,643.3 L1295.5,637 L1300.7,630.8 L1306,624.6 L1311.2,618.5 L1316.5,612.4 L1321.7,606.3 L1327,600.3 L1332.2,594.4 L1337.4,588.5 L1342.7,582.6 L1347.9,576.8 L1353.2,571 L1358.4,565.3 L1363.7,559.6 L1368.9,553.9 L1374.2,548.3 L1379.4,542.7 L1384.7,537.2 L1389.9,531.7 L1395.2,526.3 L1400.4,520.8 L1405.7,515.5 L1410.9,510.1 L1416.2,504.8 L1421.4,499.6 L1426.7,494.3 L1431.9,489.1" stroke="#008000"/>
<path d="M1540.1,389.6 L1546.7,383.9 L1553.4,378.3 L1560,372.7 L1566.7,367.2 L1573.3,361.7 L1580,356.2 L1586.6,350.8 L1593.3,345.5 L1599.9,340.1 L1606.6,334.9 L1613.2,329.6 L1619.9,324.4 L1626.5,319.3 L1633.2,314.2 L1639.8,309.1 L1646.5,304.1 L1653.1,299.1 L1659.8,294.2 L1666.4,289.3 L1673,284.4 L1679.7,279.6 L1686.3,274.8 L1693,270.1 L1699.6,265.4 L1706.3,260.7 L1712.9,256.1 L1719.6,251.5 L1726.2,246.9 L1732.9,242.4 L1739.5,237.9 L1746.2,233.5 L1752.8,229.1 L1759.5,224.7 L1766.1,220.4 L1772.8,216 L1779.4,211.8 L1786.1,207.5 L1792.7,203.3 L1799.4,199.2 L1806,195" stroke="#008000"/>
<path d="M1386,732.4 L1389.4,727.8 L1392.7,723.3 L1396.1,718.8 L1399.5,714.4 L1402.8,709.9 L1406.2,705.5 L1409.6,701.2 L1412.9,696.8 L1416.3,692.5 L1419.7,688.2 L1423,683.9 L1426.4,679.6 L1429.8,675.4 L1433.1,671.2 L1436.5,667 L1439.9,662.8 L1443.2,658.7 L1446.6,654.6 L1450,650.5 L1453.3,646.4 L1456.7,642.4 L1460.1,638.3 L1463.5,634.3 L1466.8,630.3 L1470.2,626.4 L1473.6,622.4 L1476.9,618.5 L1480.3,614.6 L1483.7,610.7 L1487,606.9 L1490.4,603 L1493.8,599.2 L1497.1,595.4 L1500.5,591.6 L1503.9,587.9 L1507.2,584.1 L1510.6,580.4 L1514,576.7 L1517.3,573 L1520.7,569.3" stroke="#ffa500"/>
<path d="M1624.1,465.1 L1628.6,460.8 L1633.2,456.6 L1637.7,452.4 L1642.3,448.3 L1646.8,444.1 L1651.4,440 L1655.9,435.9 L1660.5,431.9 L1665,427.8 L1669.6,423.8 L1674.1,419.9 L1678.7,415.9 L1683.2,412 L1687.8,408 L1692.3,404.2 L1696.9,400.3 L1701.4,396.4 L1706,392.6 L1710.5,388.8 L1715,385.1 L1719.6,381.3 L1724.1,377.6 L1728.7,373.9 L1733.2,370.2 L1737.8,366.5 L1742.3,362.9 L1746.9,359.3 L1751.4,355.7 L1756,352.1 L1760.5,348.6 L1765.1,345 L1769.6,341.5 L1774.2,338.1 L1778.7,334.6 L1783.3,331.1 L1787.8,327.7 L1792.4,324.3 L1796.9,320.9 L1801.5,317.6 L1806,314.2" stroke="#ffa500"/>
<path d="M1773.2,623.4 L1806,585.5" stroke="#ff0000"/>
</g>
<g clip-path="url(#clip1)">
<text transform="translate(1208.3 172.4) rotate(-34)" x="0" y="10.5" font-size="40" text-anchor="middle" fill="#800080">5.232</text>
<text transform="translate(1314.2 262.5) rotate(-36.2)" x="0" y="10.5" font-size="40" text-anchor="middle" fill="#0000ff">5.009</text>
<text transform="translate(1410.8 345.6) rotate(-38)" x="0" y="10.5" font-size="40" text-anchor="middle" fill="#008080">4.776</text>
<text transform="translate(1486 439.2) rotate(-41)" x="0" y="10.5" font-size="40" text-anchor="middle" fill="#008000">4.531</text>
<text transform="translate(1572.4 516.8) rotate(-43.6)" x="0" y="10.5" font-size="40" text-anchor="middle" fill="#ffa500">4.272</text>
<text transform="translate(1728 678) rotate(-50.4)" x="0" y="10.5" font-size="40" text-anchor="middle" fill="#ff0000">3.700</text>
</g>
<g clip-path="url(#clip2)" fill="none" stroke-width="5" stroke-linecap="butt" stroke-linejoin="round">
<path d="M255,924 L254.7,924.8 L254.3,925.6 L254,926.5 L253.6,927.3 L253.2,928.1 L252.9,928.9 L252.5,929.8 L252.2,930.6 L251.8,931.4 L251.5,932.2 L251.1,933 L250.8,933.9 L250.4,934.7 L250.1,935.5 L249.7,936.3 L249.4,937.2 L249,938 L248.7,938.8 L248.3,939.6 L248,940.5 L247.6,941.3 L247.3,942.1 L247,942.9 L246.6,943.7 L246.3,944.6 L245.9,945.4 L245.6,946.2 L245.2,947 L244.9,947.9 L244.6,948.7 L244.2,949.5 L243.9,950.3 L243.5,951.1 L243.2,952 L242.9,952.8 L242.5,953.6 L242.2,954.4 L241.8,955.3 L241.5,956.1 L241.2,956.9" stroke="#008000"/>
<path d="M191.3,1098.2 L190.8,1100 L190.3,1101.7 L189.7,1103.5 L189.2,1105.2 L188.7,1107 L188.2,1108.7 L187.7,1110.5 L187.2,1112.3 L186.7,1114 L186.2,1115.8 L185.7,1117.5 L185.2,1119.3 L184.7,1121 L184.2,1122.8 L183.7,1124.6 L183.2,1126.3 L182.7,1128.1 L182.2,1129.8 L181.7,1131.6 L181.2,1133.3 L180.7,1135.1 L180.3,1136.9 L179.8,1138.6 L179.3,1140.4 L178.8,1142.1 L178.4,1143.9 L177.9,1145.6 L177.4,1147.4 L177,1149.2 L176.5,1150.9 L176,1152.7 L175.6,1154.4 L175.1,1156.2 L174.7,1157.9 L174.2,1159.7 L173.8,1161.5 L173.3,1163.2 L172.9,1165 L172.4,1166.7 L172,1168.5" stroke="#008000"/>
<path d="M449.3,924 L444.6,933.3 L440.1,942.6 L435.6,951.9 L431.2,961.2 L426.9,970.6 L422.7,979.9 L418.6,989.2 L414.6,998.5 L410.6,1007.8 L406.7,1017.1 L402.9,1026.4 L399.2,1035.8 L395.5,1045.1 L391.9,1054.4 L388.4,1063.7 L385,1073 L381.7,1082.3 L378.4,1091.6 L375.2,1100.9 L372.1,1110.2 L369,1119.6 L366,1128.9 L363.1,1138.2 L360.3,1147.5 L357.5,1156.8 L354.8,1166.1 L352.2,1175.4 L349.6,1184.8 L347.1,1194.1 L344.7,1203.4 L342.4,1212.7 L340.1,1222 L337.9,1231.3 L335.7,1240.6 L333.6,1249.9 L331.6,1259.2 L329.7,1268.6 L327.8,1277.9 L326,1287.2 L324.2,1296.5" stroke="#ffa500"/>
<path d="M305.1,1444.8 L304.7,1450.1 L304.3,1455.4 L304,1460.6 L303.7,1465.9 L303.4,1471.2 L303.1,1476.5 L302.8,1481.8 L302.6,1487 L302.3,1492.3 L302.1,1497.6 L302,1502.9 L301.8,1508.2 L301.6,1513.4 L301.5,1518.7 L301.4,1524 L301.3,1529.3 L301.3,1534.6 L301.2,1539.8 L301.2,1545.1 L301.2,1550.4 L301.2,1555.7 L301.3,1561 L301.3,1566.2 L301.4,1571.5 L301.5,1576.8 L301.6,1582.1 L301.7,1587.4 L301.9,1592.6 L302.1,1597.9 L302.3,1603.2 L302.5,1608.5 L302.7,1613.8 L303,1619 L303.3,1624.3 L303.6,1629.6 L303.9,1634.9 L304.2,1640.2 L304.6,1645.4 L304.9,1650.7 L305.3,1656" stroke="#ffa500"/>
<path d="M811.2,924 L804.4,933.7 L797.8,943.5 L791.3,953.2 L784.9,962.9 L778.7,972.6 L772.7,982.4 L766.8,992.1 L761,1001.8 L755.4,1011.5 L749.9,1021.2 L744.5,1031 L739.2,1040.7 L734.1,1050.4 L729.1,1060.2 L724.3,1069.9 L719.5,1079.6 L714.9,1089.3 L710.4,1099 L706,1108.8 L701.7,1118.5 L697.6,1128.2 L693.5,1138 L689.6,1147.7 L685.7,1157.4 L682,1167.1 L678.4,1176.8 L674.9,1186.6 L671.5,1196.3 L668.2,1206 L665,1215.8 L661.9,1225.5 L658.9,1235.2 L656,1244.9 L653.2,1254.7 L650.5,1264.4 L647.9,1274.1 L645.4,1283.8 L643,1293.5 L640.6,1303.3 L638.4,1313" stroke="#ff0000"/>
<path d="M615.9,1461.4 L615.5,1466.3 L615.2,1471.1 L614.8,1476 L614.5,1480.9 L614.2,1485.7 L614,1490.6 L613.7,1495.5 L613.5,1500.3 L613.3,1505.2 L613.1,1510.1 L612.9,1514.9 L612.8,1519.8 L612.7,1524.6 L612.6,1529.5 L612.5,1534.4 L612.4,1539.2 L612.4,1544.1 L612.4,1549 L612.4,1553.8 L612.4,1558.7 L612.5,1563.6 L612.6,1568.4 L612.7,1573.3 L612.8,1578.2 L612.9,1583 L613.1,1587.9 L613.3,1592.8 L613.5,1597.6 L613.7,1602.5 L614,1607.3 L614.3,1612.2 L614.6,1617.1 L614.9,1621.9 L615.2,1626.8 L615.6,1631.7 L616,1636.5 L616.4,1641.4 L616.8,1646.3 L617.3,1651.1 L617.7,1656" stroke="#ff0000"/>
<path d="M881,1075.5 L877.7,1081.2 L874.5,1086.9 L871.3,1092.6 L868.2,1098.3 L865.1,1103.9 L862.1,1109.6 L859.1,1115.3 L856.1,1121 L853.3,1126.7 L850.4,1132.4 L847.6,1138.1 L844.9,1143.8 L842.2,1149.4 L839.6,1155.1 L837,1160.8 L834.4,1166.5 L831.9,1172.2 L829.4,1177.9 L827,1183.6 L824.6,1189.3 L822.3,1194.9 L820,1200.6 L817.8,1206.3 L815.6,1212 L813.4,1217.7 L811.3,1223.4 L809.2,1229.1 L807.2,1234.8 L805.2,1240.4 L803.2,1246.1 L801.3,1251.8 L799.4,1257.5 L797.6,1263.2 L795.8,1268.9 L794.1,1274.6 L792.4,1280.3 L790.7,1285.9 L789,1291.6 L787.4,1297.3 L785.9,1303" stroke="#ffffff"/>
<path d="M758.5,1448.9 L758,1454.1 L757.5,1459.3 L757,1464.4 L756.5,1469.6 L756.1,1474.8 L755.7,1480 L755.4,1485.1 L755,1490.3 L754.7,1495.5 L754.4,1500.7 L754.2,1505.9 L754,1511 L753.8,1516.2 L753.6,1521.4 L753.5,1526.6 L753.4,1531.7 L753.3,1536.9 L753.2,1542.1 L753.2,1547.3 L753.2,1552.5 L753.2,1557.6 L753.3,1562.8 L753.4,1568 L753.5,1573.2 L753.7,1578.3 L753.8,1583.5 L754.1,1588.7 L754.3,1593.9 L754.5,1599 L754.8,1604.2 L755.2,1609.4 L755.5,1614.6 L755.9,1619.8 L756.3,1624.9 L756.7,1630.1 L757.2,1635.3 L757.7,1640.5 L758.2,1645.6 L758.8,1650.8 L759.3,1656" stroke="#ffffff"/>
</g>
<g clip-path="url(#clip2)">
<text transform="translate(215.8 1027.5) rotate(-70.6)" x="0" y="10.5" font-size="40" text-anchor="middle" fill="#008000">4.531</text>
<text transform="translate(314.1 1370.7) rotate(-82.7)" x="0" y="10.5" font-size="40" text-anchor="middle" fill="#ffa500">4.272</text>
<text transform="translate(626 1387.2) rotate(-81.4)" x="0" y="10.5" font-size="40" text-anchor="middle" fill="#ff0000">3.700</text>
<text transform="translate(770.7 1376) rotate(-79.4)" x="0" y="10.5" font-size="40" text-anchor="middle" fill="#ffffff">3.377</text>
</g>
<g clip-path="url(#clip3)" fill="none" stroke-width="5" stroke-linecap="butt" stroke-linejoin="round">
<path d="M1144.3,924 L1144,924.5 L1143.8,925.1 L1143.6,925.6 L1143.3,926.2 L1143.1,926.7 L1142.9,927.2 L1142.6,927.8 L1142.4,928.3 L1142.2,928.9 L1141.9,929.4 L1141.7,929.9 L1141.5,930.5 L1141.3,931 L1141,931.6 L1140.8,932.1 L1140.6,932.6 L1140.3,933.2 L1140.1,933.7 L1139.9,934.3 L1139.6,934.8 L1139.4,935.3 L1139.2,935.9 L1139,936.4 L1138.7,937 L1138.5,937.5 L1138.3,938 L1138,938.6 L1137.8,939.1 L1137.6,939.7 L1137.4,940.2 L1137.1,940.7 L1136.9,941.3 L1136.7,941.8 L1136.5,942.4 L1136.2,942.9 L1136,943.4 L1135.8,944 L1135.6,944.5 L1135.3,945.1 L1135.1,945.6" stroke="#008000"/>
<path d="M1346.3,924 L1341.7,933.2 L1337.2,942.4 L1332.8,951.5 L1328.5,960.7 L1324.3,969.9 L1320.1,979.1 L1316,988.3 L1312,997.4 L1308.1,1006.6 L1304.2,1015.8 L1300.4,1025 L1296.7,1034.2 L1293.1,1043.3 L1289.6,1052.5 L1286.1,1061.7 L1282.7,1070.9 L1279.3,1080.1 L1276.1,1089.2 L1272.9,1098.4 L1269.8,1107.6 L1266.7,1116.8 L1263.7,1126 L1260.8,1135.1 L1258,1144.3 L1255.2,1153.5 L1252.5,1162.7 L1249.9,1171.9 L1247.3,1181 L1244.8,1190.2 L1242.3,1199.4 L1240,1208.6 L1237.7,1217.8 L1235.4,1226.9 L1233.3,1236.1 L1231.1,1245.3 L1229.1,1254.5 L1227.1,1263.7 L1225.2,1272.8 L1223.4,1282 L1221.6,1291.2" stroke="#ffa500"/>
<path d="M1201.2,1440.6 L1200.8,1446 L1200.4,1451.4 L1200,1456.8 L1199.6,1462.1 L1199.3,1467.5 L1198.9,1472.9 L1198.6,1478.3 L1198.3,1483.7 L1198.1,1489.1 L1197.8,1494.4 L1197.6,1499.8 L1197.4,1505.2 L1197.2,1510.6 L1197.1,1516 L1196.9,1521.4 L1196.8,1526.8 L1196.7,1532.1 L1196.6,1537.5 L1196.6,1542.9 L1196.5,1548.3 L1196.5,1553.7 L1196.5,1559.1 L1196.5,1564.5 L1196.6,1569.8 L1196.6,1575.2 L1196.7,1580.6 L1196.8,1586 L1197,1591.4 L1197.1,1596.8 L1197.3,1602.2 L1197.5,1607.5 L1197.7,1612.9 L1197.9,1618.3 L1198.2,1623.7 L1198.4,1629.1 L1198.7,1634.5 L1199,1639.8 L1199.4,1645.2 L1199.7,1650.6 L1200.1,1656" stroke="#ffa500"/>
<path d="M1716.4,924 L1709.6,933.6 L1703,943.2 L1696.5,952.9 L1690.2,962.5 L1684,972.1 L1678,981.7 L1672.1,991.4 L1666.3,1001 L1660.7,1010.6 L1655.2,1020.2 L1649.8,1029.8 L1644.6,1039.5 L1639.4,1049.1 L1634.4,1058.7 L1629.6,1068.3 L1624.8,1078 L1620.2,1087.6 L1615.6,1097.2 L1611.2,1106.8 L1606.9,1116.5 L1602.7,1126.1 L1598.7,1135.7 L1594.7,1145.3 L1590.8,1154.9 L1587.1,1164.6 L1583.4,1174.2 L1579.9,1183.8 L1576.4,1193.4 L1573.1,1203.1 L1569.8,1212.7 L1566.7,1222.3 L1563.6,1231.9 L1560.7,1241.5 L1557.8,1251.2 L1555.1,1260.8 L1552.4,1270.4 L1549.8,1280 L1547.4,1289.7 L1545,1299.3 L1542.7,1308.9" stroke="#ff0000"/>
<path d="M1518.8,1457.2 L1518.4,1462.2 L1518,1467.1 L1517.6,1472.1 L1517.2,1477.1 L1516.9,1482 L1516.6,1487 L1516.3,1492 L1516,1497 L1515.7,1501.9 L1515.5,1506.9 L1515.3,1511.9 L1515.1,1516.8 L1514.9,1521.8 L1514.8,1526.8 L1514.7,1531.8 L1514.6,1536.7 L1514.5,1541.7 L1514.4,1546.7 L1514.4,1551.6 L1514.4,1556.6 L1514.4,1561.6 L1514.5,1566.5 L1514.5,1571.5 L1514.6,1576.5 L1514.7,1581.5 L1514.8,1586.4 L1515,1591.4 L1515.2,1596.4 L1515.4,1601.3 L1515.6,1606.3 L1515.8,1611.3 L1516.1,1616.2 L1516.4,1621.2 L1516.7,1626.2 L1517,1631.2 L1517.4,1636.1 L1517.8,1641.1 L1518.2,1646.1 L1518.6,1651 L1519.1,1656" stroke="#ff0000"/>
<path d="M1806,1044.9 L1802,1051.2 L1798.1,1057.5 L1794.3,1063.7 L1790.5,1070 L1786.8,1076.2 L1783.2,1082.5 L1779.6,1088.7 L1776.1,1095 L1772.6,1101.2 L1769.2,1107.5 L1765.9,1113.7 L1762.6,1120 L1759.4,1126.2 L1756.3,1132.5 L1753.2,1138.7 L1750.1,1145 L1747.1,1151.2 L1744.2,1157.5 L1741.3,1163.7 L1738.5,1170 L1735.8,1176.2 L1733,1182.5 L1730.4,1188.7 L1727.8,1195 L1725.2,1201.2 L1722.7,1207.5 L1720.3,1213.7 L1717.9,1220 L1715.6,1226.2 L1713.3,1232.5 L1711,1238.7 L1708.8,1245 L1706.7,1251.2 L1704.6,1257.5 L1702.5,1263.7 L1700.5,1270 L1698.6,1276.2 L1696.6,1282.5 L1694.8,1288.7 L1693,1295" stroke="#ffffff"/>
<path d="M1662.8,1445.8 L1662.2,1451.1 L1661.6,1456.3 L1661.1,1461.6 L1660.6,1466.8 L1660.1,1472.1 L1659.6,1477.3 L1659.2,1482.6 L1658.8,1487.8 L1658.5,1493.1 L1658.1,1498.3 L1657.8,1503.6 L1657.6,1508.9 L1657.3,1514.1 L1657.1,1519.4 L1656.9,1524.6 L1656.7,1529.9 L1656.6,1535.1 L1656.5,1540.4 L1656.5,1545.6 L1656.4,1550.9 L1656.4,1556.2 L1656.4,1561.4 L1656.5,1566.7 L1656.5,1571.9 L1656.6,1577.2 L1656.8,1582.4 L1656.9,1587.7 L1657.1,1592.9 L1657.4,1598.2 L1657.6,1603.5 L1657.9,1608.7 L1658.2,1614 L1658.5,1619.2 L1658.9,1624.5 L1659.3,1629.7 L1659.7,1635 L1660.2,1640.2 L1660.7,1645.5 L1661.2,1650.7 L1661.8,1656" stroke="#ffffff"/>
<path d="M1806,1422.1 L1805,1427.9 L1804.1,1433.8 L1803.3,1439.6 L1802.4,1445.5 L1801.6,1451.3 L1800.9,1457.2 L1800.2,1463 L1799.6,1468.9 L1799,1474.7 L1798.4,1480.6 L1797.9,1486.4 L1797.4,1492.2 L1796.9,1498.1 L1796.5,1503.9 L1796.2,1509.8 L1795.9,1515.6 L1795.6,1521.5 L1795.4,1527.3 L1795.2,1533.2 L1795.1,1539 L1795,1544.9 L1794.9,1550.7 L1794.9,1556.6 L1794.9,1562.4 L1795,1568.3 L1795.1,1574.1 L1795.3,1580 L1795.5,1585.8 L1795.7,1591.7 L1796,1597.5 L1796.3,1603.4 L1796.7,1609.2 L1797.1,1615.1 L1797.6,1620.9 L1798.1,1626.8 L1798.6,1632.6 L1799.2,1638.5 L1799.8,1644.3 L1800.5,1650.2 L1801.2,1656" stroke="#ffffff"/>
</g>
<g clip-path="url(#clip3)">
<text transform="translate(1109.2 1016.2) rotate(-70.2)" x="0" y="10.5" font-size="40" text-anchor="middle" fill="#008000">4.531</text>
<text transform="translate(1210.8 1365.9) rotate(-82.2)" x="0" y="10.5" font-size="40" text-anchor="middle" fill="#ffa500">4.272</text>
<text transform="translate(1529.7 1383.1) rotate(-80.9)" x="0" y="10.5" font-size="40" text-anchor="middle" fill="#ff0000">3.700</text>
<text transform="translate(1676.2 1370.4) rotate(-78.7)" x="0" y="10.5" font-size="40" text-anchor="middle" fill="#ffffff">3.377</text>
</g>
<rect x="174.6" y="2" width="703.8" height="726.5" fill="none" stroke="#000" stroke-width="2.67"/>
<line x1="174.9" y1="728.5" x2="174.9" y2="740.2" stroke="#000" stroke-width="2.67"/>
<text x="174.9" y="781.5" font-size="40" text-anchor="middle" fill="#000">0</text>
<line x1="345.7" y1="728.5" x2="345.7" y2="740.2" stroke="#000" stroke-width="2.67"/>
<text x="345.7" y="781.5" font-size="40" text-anchor="middle" fill="#000">250</text>
<line x1="516.6" y1="728.5" x2="516.6" y2="740.2" stroke="#000" stroke-width="2.67"/>
<text x="516.6" y="781.5" font-size="40" text-anchor="middle" fill="#000">500</text>
<line x1="687.4" y1="728.5" x2="687.4" y2="740.2" stroke="#000" stroke-width="2.67"/>
<text x="687.4" y="781.5" font-size="40" text-anchor="middle" fill="#000">750</text>
<line x1="858.2" y1="728.5" x2="858.2" y2="740.2" stroke="#000" stroke-width="2.67"/>
<text x="858.2" y="781.5" font-size="40" text-anchor="middle" fill="#000">1000</text>
<line x1="174.6" y1="728.5" x2="162.9" y2="728.5" stroke="#000" stroke-width="2.67"/>
<text x="153.2" y="743.8" font-size="40" text-anchor="end" fill="#000">0</text>
<line x1="174.6" y1="591.8" x2="162.9" y2="591.8" stroke="#000" stroke-width="2.67"/>
<text x="153.2" y="607.1" font-size="40" text-anchor="end" fill="#000">200</text>
<line x1="174.6" y1="455.2" x2="162.9" y2="455.2" stroke="#000" stroke-width="2.67"/>
<text x="153.2" y="470.5" font-size="40" text-anchor="end" fill="#000">400</text>
<line x1="174.6" y1="318.5" x2="162.9" y2="318.5" stroke="#000" stroke-width="2.67"/>
<text x="153.2" y="333.8" font-size="40" text-anchor="end" fill="#000">600</text>
<line x1="174.6" y1="181.9" x2="162.9" y2="181.9" stroke="#000" stroke-width="2.67"/>
<text x="153.2" y="197.2" font-size="40" text-anchor="end" fill="#000">800</text>
<line x1="174.6" y1="45.2" x2="162.9" y2="45.2" stroke="#000" stroke-width="2.67"/>
<text x="153.2" y="60.5" font-size="40" text-anchor="end" fill="#000">1000</text>
<text x="526" y="832.8" font-size="40" text-anchor="middle" fill="#000">x (pixel)</text>
<text x="526.5" y="877.5" font-size="40" text-anchor="middle" fill="#000">(a)</text>
<text x="29.4" y="365.2" font-size="40" text-anchor="middle" fill="#000" transform="rotate(-90 29.4 365.2)">y (pixel)</text>
<rect x="1099.5" y="2" width="703.7" height="726.5" fill="none" stroke="#000" stroke-width="2.67"/>
<line x1="1099.8" y1="728.5" x2="1099.8" y2="740.2" stroke="#000" stroke-width="2.67"/>
<text x="1099.8" y="781.5" font-size="40" text-anchor="middle" fill="#000">0</text>
<line x1="1270.6" y1="728.5" x2="1270.6" y2="740.2" stroke="#000" stroke-width="2.67"/>
<text x="1270.6" y="781.5" font-size="40" text-anchor="middle" fill="#000">250</text>
<line x1="1441.5" y1="728.5" x2="1441.5" y2="740.2" stroke="#000" stroke-width="2.67"/>
<text x="1441.5" y="781.5" font-size="40" text-anchor="middle" fill="#000">500</text>
<line x1="1612.3" y1="728.5" x2="1612.3" y2="740.2" stroke="#000" stroke-width="2.67"/>
<text x="1612.3" y="781.5" font-size="40" text-anchor="middle" fill="#000">750</text>
<line x1="1783.1" y1="728.5" x2="1783.1" y2="740.2" stroke="#000" stroke-width="2.67"/>
<text x="1783.1" y="781.5" font-size="40" text-anchor="middle" fill="#000">1000</text>
<line x1="1099.5" y1="728.5" x2="1087.8" y2="728.5" stroke="#000" stroke-width="2.67"/>
<text x="1078.1" y="743.8" font-size="40" text-anchor="end" fill="#000">0</text>
<line x1="1099.5" y1="591.8" x2="1087.8" y2="591.8" stroke="#000" stroke-width="2.67"/>
<text x="1078.1" y="607.1" font-size="40" text-anchor="end" fill="#000">200</text>
<line x1="1099.5" y1="455.2" x2="1087.8" y2="455.2" stroke="#000" stroke-width="2.67"/>
<text x="1078.1" y="470.5" font-size="40" text-anchor="end" fill="#000">400</text>
<line x1="1099.5" y1="318.5" x2="1087.8" y2="318.5" stroke="#000" stroke-width="2.67"/>
<text x="1078.1" y="333.8" font-size="40" text-anchor="end" fill="#000">600</text>
<line x1="1099.5" y1="181.9" x2="1087.8" y2="181.9" stroke="#000" stroke-width="2.67"/>
<text x="1078.1" y="197.2" font-size="40" text-anchor="end" fill="#000">800</text>
<line x1="1099.5" y1="45.2" x2="1087.8" y2="45.2" stroke="#000" stroke-width="2.67"/>
<text x="1078.1" y="60.5" font-size="40" text-anchor="end" fill="#000">1000</text>
<text x="1450.8" y="832.8" font-size="40" text-anchor="middle" fill="#000">x (pixel)</text>
<text x="1451.3" y="877.5" font-size="40" text-anchor="middle" fill="#000">(b)</text>
<text x="954.3" y="365.2" font-size="40" text-anchor="middle" fill="#000" transform="rotate(-90 954.3 365.2)">y (pixel)</text>
<rect x="174.6" y="926.5" width="703.8" height="726.5" fill="none" stroke="#000" stroke-width="2.67"/>
<line x1="174.9" y1="1653" x2="174.9" y2="1664.7" stroke="#000" stroke-width="2.67"/>
<text x="174.9" y="1706" font-size="40" text-anchor="middle" fill="#000">0</text>
<line x1="345.7" y1="1653" x2="345.7" y2="1664.7" stroke="#000" stroke-width="2.67"/>
<text x="345.7" y="1706" font-size="40" text-anchor="middle" fill="#000">250</text>
<line x1="516.6" y1="1653" x2="516.6" y2="1664.7" stroke="#000" stroke-width="2.67"/>
<text x="516.6" y="1706" font-size="40" text-anchor="middle" fill="#000">500</text>
<line x1="687.4" y1="1653" x2="687.4" y2="1664.7" stroke="#000" stroke-width="2.67"/>
<text x="687.4" y="1706" font-size="40" text-anchor="middle" fill="#000">750</text>
<line x1="858.2" y1="1653" x2="858.2" y2="1664.7" stroke="#000" stroke-width="2.67"/>
<text x="858.2" y="1706" font-size="40" text-anchor="middle" fill="#000">1000</text>
<line x1="174.6" y1="1653" x2="162.9" y2="1653" stroke="#000" stroke-width="2.67"/>
<text x="153.2" y="1668.3" font-size="40" text-anchor="end" fill="#000">0</text>
<line x1="174.6" y1="1516.3" x2="162.9" y2="1516.3" stroke="#000" stroke-width="2.67"/>
<text x="153.2" y="1531.6" font-size="40" text-anchor="end" fill="#000">200</text>
<line x1="174.6" y1="1379.7" x2="162.9" y2="1379.7" stroke="#000" stroke-width="2.67"/>
<text x="153.2" y="1395" font-size="40" text-anchor="end" fill="#000">400</text>
<line x1="174.6" y1="1243" x2="162.9" y2="1243" stroke="#000" stroke-width="2.67"/>
<text x="153.2" y="1258.3" font-size="40" text-anchor="end" fill="#000">600</text>
<line x1="174.6" y1="1106.4" x2="162.9" y2="1106.4" stroke="#000" stroke-width="2.67"/>
<text x="153.2" y="1121.7" font-size="40" text-anchor="end" fill="#000">800</text>
<line x1="174.6" y1="969.7" x2="162.9" y2="969.7" stroke="#000" stroke-width="2.67"/>
<text x="153.2" y="985" font-size="40" text-anchor="end" fill="#000">1000</text>
<text x="526" y="1757.3" font-size="40" text-anchor="middle" fill="#000">x (pixel)</text>
<text x="526.5" y="1802" font-size="40" text-anchor="middle" fill="#000">(c)</text>
<text x="29.4" y="1289.8" font-size="40" text-anchor="middle" fill="#000" transform="rotate(-90 29.4 1289.8)">y (pixel)</text>
<rect x="1099.5" y="926.5" width="703.7" height="726.5" fill="none" stroke="#000" stroke-width="2.67"/>
<line x1="1099.8" y1="1653" x2="1099.8" y2="1664.7" stroke="#000" stroke-width="2.67"/>
<text x="1099.8" y="1706" font-size="40" text-anchor="middle" fill="#000">0</text>
<line x1="1270.6" y1="1653" x2="1270.6" y2="1664.7" stroke="#000" stroke-width="2.67"/>
<text x="1270.6" y="1706" font-size="40" text-anchor="middle" fill="#000">250</text>
<line x1="1441.5" y1="1653" x2="1441.5" y2="1664.7" stroke="#000" stroke-width="2.67"/>
<text x="1441.5" y="1706" font-size="40" text-anchor="middle" fill="#000">500</text>
<line x1="1612.3" y1="1653" x2="1612.3" y2="1664.7" stroke="#000" stroke-width="2.67"/>
<text x="1612.3" y="1706" font-size="40" text-anchor="middle" fill="#000">750</text>
<line x1="1783.1" y1="1653" x2="1783.1" y2="1664.7" stroke="#000" stroke-width="2.67"/>
<text x="1783.1" y="1706" font-size="40" text-anchor="middle" fill="#000">1000</text>
<line x1="1099.5" y1="1653" x2="1087.8" y2="1653" stroke="#000" stroke-width="2.67"/>
<text x="1078.1" y="1668.3" font-size="40" text-anchor="end" fill="#000">0</text>
<line x1="1099.5" y1="1516.3" x2="1087.8" y2="1516.3" stroke="#000" stroke-width="2.67"/>
<text x="1078.1" y="1531.6" font-size="40" text-anchor="end" fill="#000">200</text>
<line x1="1099.5" y1="1379.7" x2="1087.8" y2="1379.7" stroke="#000" stroke-width="2.67"/>
<text x="1078.1" y="1395" font-size="40" text-anchor="end" fill="#000">400</text>
<line x1="1099.5" y1="1243" x2="1087.8" y2="1243" stroke="#000" stroke-width="2.67"/>
<text x="1078.1" y="1258.3" font-size="40" text-anchor="end" fill="#000">600</text>
<line x1="1099.5" y1="1106.4" x2="1087.8" y2="1106.4" stroke="#000" stroke-width="2.67"/>
<text x="1078.1" y="1121.7" font-size="40" text-anchor="end" fill="#000">800</text>
<line x1="1099.5" y1="969.7" x2="1087.8" y2="969.7" stroke="#000" stroke-width="2.67"/>
<text x="1078.1" y="985" font-size="40" text-anchor="end" fill="#000">1000</text>
<text x="1450.8" y="1757.3" font-size="40" text-anchor="middle" fill="#000">x (pixel)</text>
<text x="1451.3" y="1802" font-size="40" text-anchor="middle" fill="#000">(d)</text>
<text x="954.3" y="1289.8" font-size="40" text-anchor="middle" fill="#000" transform="rotate(-90 954.3 1289.8)">y (pixel)</text>
</svg>
</body></html>
